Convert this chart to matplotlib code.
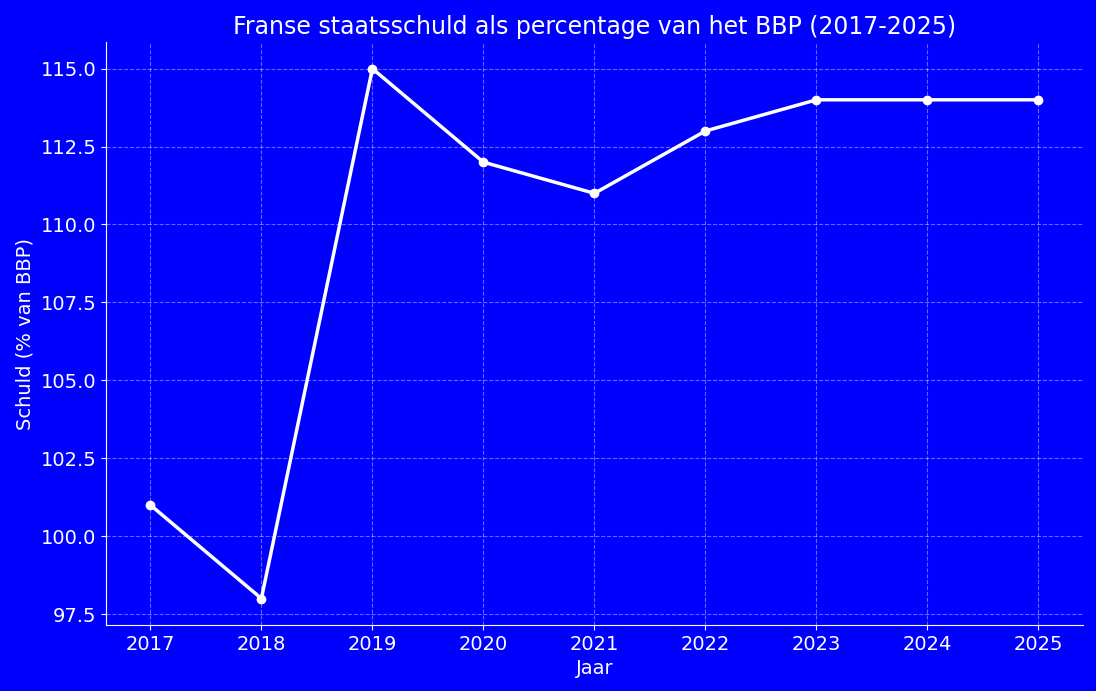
import matplotlib
matplotlib.use("Agg")
import matplotlib.pyplot as plt

years = [2017, 2018, 2019, 2020, 2021, 2022, 2023, 2024, 2025]
debt = [101, 98, 115, 112, 111, 113, 114, 114, 114]
yticks = [97.5, 100.0, 102.5, 105.0, 107.5, 110.0, 112.5, 115.0]

fig = plt.figure(figsize=(10.96, 6.91), dpi=100, facecolor="#0000FF")
ax = fig.add_axes([0.0967, 0.0955, 0.8913, 0.8435])
ax.set_facecolor("#0000FF")
ax.plot(years, debt, color="white", linewidth=2.5, marker="o", markersize=6)
ax.set_xticks(years)
ax.set_yticks(yticks)
ax.set_yticklabels([f"{v:.1f}" for v in yticks])
ax.set_xlim(2016.6, 2025.4)
ax.set_ylim(97.15, 115.85)
ax.grid(True, linestyle="--", color="white", alpha=0.4, linewidth=0.8)
for s in ["top", "right"]:
    ax.spines[s].set_visible(False)
for s in ["left", "bottom"]:
    ax.spines[s].set_color("white")
ax.tick_params(colors="white", labelsize=14)
ax.set_title("Franse staatsschuld als percentage van het BBP (2017-2025)", color="white", fontsize=17)
ax.set_xlabel("Jaar", color="white", fontsize=14)
ax.set_ylabel("Schuld (% van BBP)", color="white", fontsize=14)
fig.savefig("out.png", dpi=100, facecolor=fig.get_facecolor())
